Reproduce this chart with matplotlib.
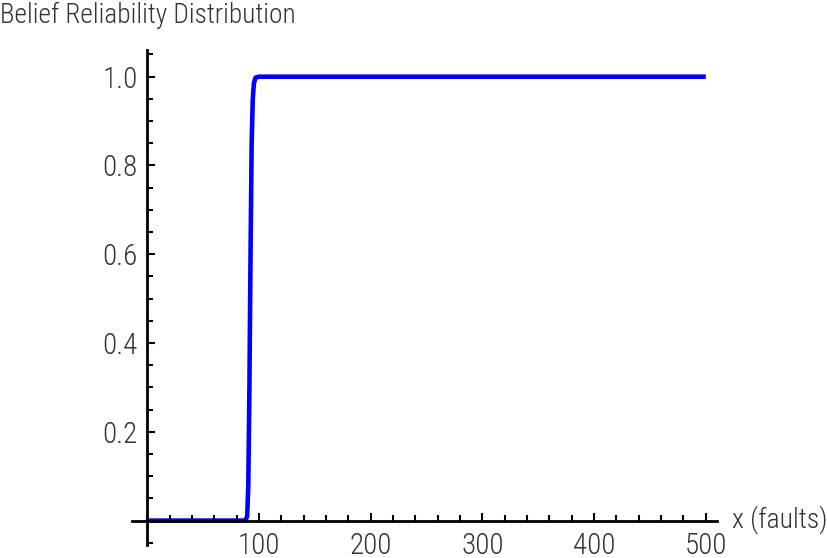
import matplotlib
matplotlib.use("Agg")
import matplotlib.pyplot as plt
from matplotlib.ticker import MultipleLocator, FixedLocator

# curve (belief reliability vs number of faults)
faults = [0, 88, 89.5, 90.5, 91.5, 92.5, 93.5, 94.5, 95.5, 97, 100, 500]
reliability = [0, 0, 0.01, 0.08, 0.3, 0.6, 0.85, 0.95, 0.985, 0.998, 1.0, 1.0]

x_major = [100, 200, 300, 400, 500]
y_major = [0.2, 0.4, 0.6, 0.8, 1.0]
y_labels = ["0.2", "0.4", "0.6", "0.8", "1.0"]

FONT = ["Roboto Condensed", "DejaVu Sans"]
TXT = "#333333"

fig = plt.figure(figsize=(8.27, 5.58), dpi=100)
ax = fig.add_axes([0.1596, 0.0233, 0.7074, 0.887])

ax.plot(faults, reliability, color="#0000ff", lw=3.3, solid_capstyle="butt",
        zorder=1, clip_on=False)
ax.set_xlim(-13.6, 510)
ax.set_ylim(-0.055, 1.06)

for s in ["top", "right"]:
    ax.spines[s].set_visible(False)
ax.spines["left"].set_position(("data", 0))
ax.spines["bottom"].set_position(("data", 0))
ax.spines["left"].set_linewidth(2.0)
ax.spines["bottom"].set_linewidth(2.0)
ax.spines["left"].set_zorder(2)
ax.spines["bottom"].set_zorder(2)

ax.xaxis.set_major_locator(FixedLocator(x_major))
ax.xaxis.set_minor_locator(MultipleLocator(20))
ax.yaxis.set_major_locator(FixedLocator(y_major))
ax.yaxis.set_minor_locator(MultipleLocator(0.05))
ax.set_yticklabels(y_labels)

ax.tick_params(axis="x", which="both", direction="in", width=1.5, colors="black",
               labelcolor=TXT, labelsize=21, pad=8)
ax.tick_params(axis="y", which="both", direction="in", width=1.5, colors="black",
               labelcolor=TXT, labelsize=21, pad=7)
ax.tick_params(which="major", length=6)
ax.tick_params(which="minor", length=4)
for lab in ax.get_xticklabels() + ax.get_yticklabels():
    lab.set_family(FONT)
    lab.set_fontweight("light")

fig.text(0.0, 0.973, "Belief Reliability Distribution", family=FONT, fontsize=19.7,
         color=TXT, ha="left", va="center", fontweight="light")
fig.text(0.885, 0.068, "x (faults)", family=FONT, fontsize=20, color=TXT,
         ha="left", va="center", fontweight="light")

fig.savefig("out.png", dpi=100)
